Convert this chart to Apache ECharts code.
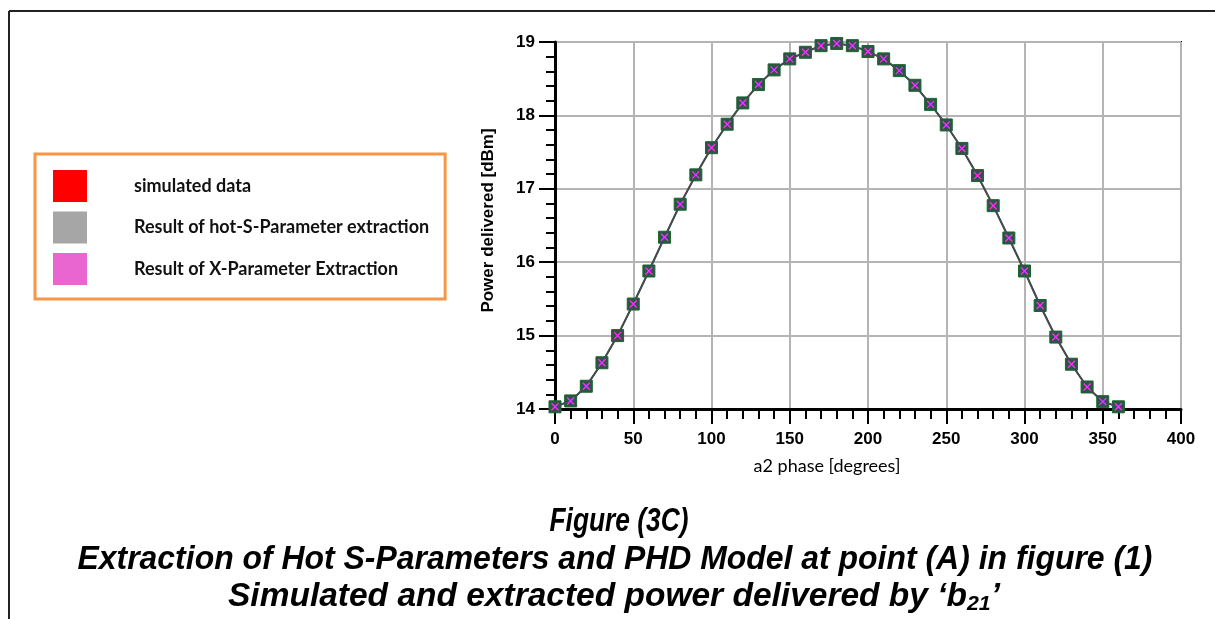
<!DOCTYPE html>
<html>
<head>
<meta charset="utf-8">
<script src="https://cdn.jsdelivr.net/npm/echarts@6/dist/echarts.min.js"></script>
<style>
html,body{margin:0;padding:0;background:#fff;}
#chart{width:1215px;height:619px;}
</style>
</head>
<body>
<div id="chart"></div>
<script>
// ---- data ----
const phase = [0,10,20,30,40,50,60,70,80,90,100,110,120,130,140,150,160,170,180,190,200,210,220,230,240,250,260,270,280,290,300,310,320,330,340,350,360];
const simulated = [14.03,14.11,14.31,14.63,15.00,15.43,15.88,16.34,16.79,17.19,17.56,17.88,18.17,18.42,18.62,18.77,18.86,18.95,18.98,18.95,18.87,18.77,18.61,18.41,18.15,17.87,17.55,17.18,16.77,16.33,15.88,15.41,14.98,14.61,14.30,14.10,14.03];
const hotS = [14.03,14.11,14.31,14.63,15.00,15.43,15.88,16.34,16.79,17.19,17.56,17.88,18.17,18.42,18.62,18.77,18.86,18.95,18.98,18.95,18.87,18.77,18.61,18.41,18.15,17.87,17.55,17.18,16.77,16.33,15.88,15.41,14.98,14.61,14.30,14.10,14.03];
const xParam = [14.03,14.11,14.31,14.63,15.00,15.43,15.88,16.34,16.79,17.19,17.56,17.88,18.17,18.42,18.62,18.77,18.86,18.95,18.98,18.95,18.87,18.77,18.61,18.41,18.15,17.87,17.55,17.18,16.77,16.33,15.88,15.41,14.98,14.61,14.30,14.10,14.03];
const seriesNames = ['simulated data','Result of hot-S-Parameter extraction','Result of X-Parameter Extraction'];
const legendColors = ['#ff0000','#a6a6a6','#e966d0'];
const xTitle = 'a2 phase [degrees]';
const yTitle = 'Power delivered [dBm]';
const caption1 = 'Figure (3C)';
const caption2 = 'Extraction of Hot S-Parameters and PHD Model at point (A) in figure (1)';
const caption3a = 'Simulated and extracted power delivered by ‘b';
const caption3sub = '21';
const caption3b = '’';

const pair = arr => phase.map((p,i)=>[p,arr[i]]);

// measure text for horizontal condensing of captions
const capFam = '"Liberation Sans", Arial, sans-serif';
const capSize = 33, subSize = 21;
const cv = document.createElement('canvas').getContext('2d');
function tw(t, size){ cv.font = 'italic bold ' + size + 'px ' + capFam; return cv.measureText(t).width; }
const sx1 = 139 / tw(caption1, capSize);
const sx2 = 1075 / tw(caption2, capSize);
const sx3 = 772 / (tw(caption3a, capSize) + tw(caption3sub, subSize) + tw(caption3b, capSize));

const chart = echarts.init(document.getElementById('chart'), null, {renderer:'canvas'});
const capStyle = {fontFamily:capFam, fontSize:capSize, fontWeight:'bold', fontStyle:'italic', fill:'#000', align:'center', verticalAlign:'middle'};
const option = {
  animation:false,
  backgroundColor:'#fff',
  grid:{left:555, right:34, top:42, bottom:210, show:true, borderColor:'#000', borderWidth:2, backgroundColor:'transparent'},
  legend:{
    orient:'vertical', left:35, top:154,
    itemWidth:34, itemHeight:32, itemGap:9.5,
    padding:[16,16,14,18],
    borderColor:'#f79646', borderWidth:3, backgroundColor:'#fff',
    selectedMode:false,
    textStyle:{fontFamily:'Lato, "Open Sans", sans-serif', fontSize:18, fontWeight:'bold', color:'#111', padding:[0,0,0,42]},
    data: seriesNames.map((n,i)=>({name:n, icon:'rect', itemStyle:{color:legendColors[i], borderWidth:0}, lineStyle:{opacity:0}}))
  },
  xAxis:{
    type:'value', min:0, max:400, interval:50,
    name:xTitle, nameLocation:'middle', nameGap:48,
    nameTextStyle:{fontFamily:'Lato, "Open Sans", sans-serif', fontSize:18, color:'#000', padding:[0,82,0,0]},
    axisLine:{show:true, onZero:false, lineStyle:{color:'#000', width:3}},
    axisTick:{show:true, length:15, lineStyle:{color:'#000', width:2}},
    minorTick:{show:true, splitNumber:5, length:10, lineStyle:{color:'#000', width:2}},
    axisLabel:{margin:22, fontFamily:'Arial, "Liberation Sans", sans-serif', fontWeight:'bold', fontSize:17, color:'#000'},
    splitLine:{show:true, lineStyle:{color:'#b4b4b4', width:2}}
  },
  yAxis:{
    type:'value', min:14, max:19, interval:1,
    name:yTitle, nameLocation:'middle', nameGap:58, nameRotate:90,
    nameTextStyle:{fontFamily:'Arial, "Liberation Sans", sans-serif', fontSize:17, fontWeight:'bold', color:'#000', padding:[0,0,0,10]},
    axisLine:{show:true, onZero:false, lineStyle:{color:'#000', width:3}},
    axisTick:{show:true, length:16, lineStyle:{color:'#000', width:2}},
    minorTick:{show:true, splitNumber:5, length:9, lineStyle:{color:'#000', width:2}},
    axisLabel:{margin:20, fontFamily:'Arial, "Liberation Sans", sans-serif', fontWeight:'bold', fontSize:17, color:'#000'},
    splitLine:{show:true, lineStyle:{color:'#b4b4b4', width:2}}
  },
  series:[
    {name:seriesNames[0], type:'line', data:pair(simulated), z:2,
     lineStyle:{color:'#ff0000', width:1.5},
     symbol:'rect', symbolSize:12, itemStyle:{color:'#2d5546', borderColor:'#17662c', borderWidth:1}},
    {name:seriesNames[1], type:'line', data:pair(hotS), z:3,
     lineStyle:{color:'#1f5a3a', width:2},
     symbol:'rect', symbolSize:4, itemStyle:{color:'#3030ff'}},
    {name:seriesNames[2], type:'line', data:pair(xParam), z:4,
     lineStyle:{color:'#ff00ff', width:1, type:'dotted', opacity:0.5},
     symbol:'path://M0,0L10,10M10,0L0,10', symbolSize:7, itemStyle:{color:'#ff00ff', borderColor:'#ff33dd', borderWidth:1.3}}
  ],
  graphic:[
    {type:'line', shape:{x1:9, y1:11, x2:1215, y2:11}, style:{stroke:'#222', lineWidth:2}},
    {type:'line', shape:{x1:9, y1:11, x2:9, y2:619}, style:{stroke:'#222', lineWidth:2}},
    {type:'text', x:619, y:522, scaleX:sx1, style:Object.assign({text:caption1}, capStyle)},
    {type:'text', x:615, y:560, scaleX:sx2, style:Object.assign({text:caption2}, capStyle)},
    {type:'text', x:614, y:597, scaleX:sx3, style:Object.assign({text:caption3a + '{sub|' + caption3sub + '}' + caption3b,
      rich:{sub:{fontFamily:capFam, fontSize:subSize, fontWeight:'bold', fontStyle:'italic', fill:'#000', padding:[15,0,0,0]}}}, capStyle)}
  ]
};
chart.setOption(option);
</script>
</body>
</html>
